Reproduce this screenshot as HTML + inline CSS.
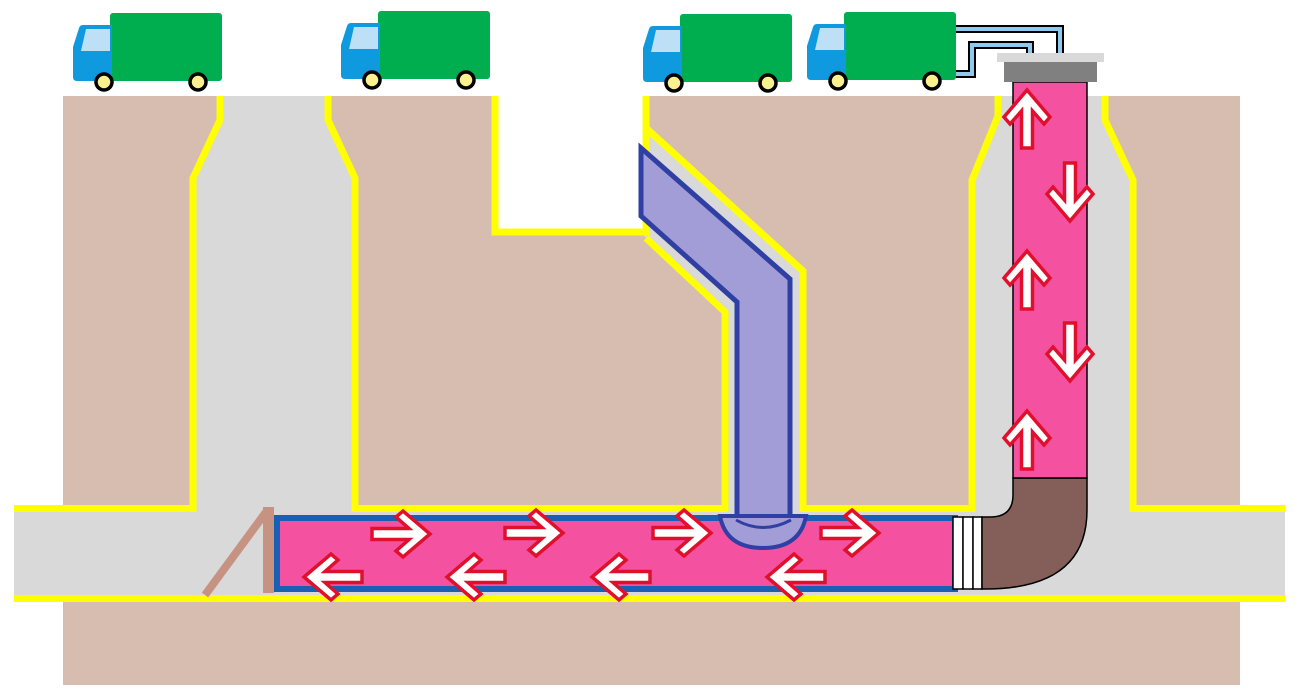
<!DOCTYPE html>
<html><head><meta charset="utf-8"><style>html,body{margin:0;padding:0;background:#fff}svg{display:block}</style></head>
<body>
<svg width="1302" height="696" viewBox="0 0 1302 696" xmlns="http://www.w3.org/2000/svg">
<defs>
<g id="truck">
<rect x="0" y="0" width="112" height="68" rx="3" fill="#00ae4f"/>
<path d="M2,12 L-27,12 Q-30,12 -31,15 L-37,34 L-37,64 Q-37,68 -33,68 L2,68 Z" fill="#0f9ae0"/>
<path d="M0,16 L-24,16 L-29,38 L0,38 Z" fill="#bde0f7"/>
<circle cx="-6" cy="69" r="8" fill="#fdf08f" stroke="#000" stroke-width="3.5"/>
<circle cx="88" cy="69" r="8" fill="#fdf08f" stroke="#000" stroke-width="3.5"/>
</g>
<polygon id="ar" points="-29,-5.5 8,-5.5 -5,-17 2,-23 29,0 2,23 -5,17 8,5.5 -29,5.5" fill="#fff" stroke="#e0102d" stroke-width="3.5" stroke-linejoin="miter"/>
</defs>

<!-- ground -->
<rect x="63" y="96" width="1177" height="589" fill="#d7bcb0"/>
<!-- sewer band -->
<rect x="14" y="508" width="1271" height="90" fill="#d9d9d9"/>
<!-- left manhole gray -->
<polygon points="220,96 328,96 328,120 355,178 355,510 193,510 193,178 220,120" fill="#d9d9d9"/>
<!-- right manhole gray -->
<polygon points="998,96 1105,96 1105,120 1133,180 1133,510 972,510 972,180 998,116" fill="#d9d9d9"/>
<!-- notch white -->
<rect x="496" y="90" width="148" height="142" fill="#fff"/>
<!-- lateral trench gray -->
<polygon points="644,130 803,273 803,510 725,510 725,312 644,236" fill="#d9d9d9"/>

<!-- yellow lines -->
<g fill="none" stroke="#ffff00" stroke-width="7" stroke-linejoin="miter">
<polyline points="14,508.5 193,508.5 193,178 220,120 220,96"/>
<polyline points="328,96 328,120 355,178 355,508.5 725,508.5 725,312 646,238"/>
<polyline points="495,96 495,232 646,232 646,96"/>
<polyline points="646,128 803,271 803,508.5 972,508.5 972,180 998,116 998,96"/>
<polyline points="1105,96 1105,120 1133,180 1133,508.5 1285,508.5"/>
<line x1="14" y1="598.5" x2="1285" y2="598.5"/>
</g>

<!-- lateral pipe -->
<polygon points="641,148 790,279 790,522 737,522 737,302 641,216" fill="#a29dd6" stroke="#2f3fa3" stroke-width="5" stroke-linejoin="miter"/>

<!-- main pipe -->
<rect x="277" y="518" width="678" height="71" fill="#f452a0" stroke="#1a5fb4" stroke-width="6"/>
<!-- dome -->
<path d="M720,516 L806,516 Q800,548 763,548 Q726,548 720,516 Z" fill="#a29dd6" stroke="#2f3fa3" stroke-width="4"/>
<path d="M736,520 Q763,535 791,520" fill="none" stroke="#2f3fa3" stroke-width="3"/>

<!-- stick -->
<line x1="205" y1="595" x2="266" y2="512" stroke="#c69383" stroke-width="8"/>
<rect x="263" y="507" width="11" height="86" fill="#c69383"/>

<!-- ring -->
<rect x="953" y="517" width="10" height="72" fill="#fff" stroke="#000" stroke-width="1.5"/>
<rect x="963" y="517" width="10" height="72" fill="#fff" stroke="#000" stroke-width="1.5"/>
<rect x="973" y="517" width="9" height="72" fill="#fff" stroke="#000" stroke-width="1.5"/>
<!-- elbow -->
<path d="M982,517 L990,517 Q1013,517 1013,495 L1013,478 L1087,478 L1087,510 Q1087,589 985,589 L982,589 Z" fill="#845e58" stroke="#000" stroke-width="1.5"/>
<!-- vertical pink pipe -->
<rect x="1013" y="82" width="74" height="396" fill="#f452a0" stroke="#000" stroke-width="1.5"/>

<!-- hose -->
<g fill="none" stroke-linejoin="miter">
<polyline points="955,29 1060,29 1060,54" stroke="#000" stroke-width="8"/>
<polyline points="955,29 1060,29 1060,54" stroke="#8fc9ec" stroke-width="4"/>
<polyline points="955,74 972,74 972,45 1030,45 1030,54" stroke="#000" stroke-width="8"/>
<polyline points="955,74 972,74 972,45 1030,45 1030,54" stroke="#8fc9ec" stroke-width="4"/>
</g>
<!-- cap -->
<rect x="997" y="53" width="107" height="9" fill="#d9d9d9"/>
<rect x="1004" y="62" width="93" height="20" fill="#808080"/>

<!-- trucks -->
<use href="#truck" transform="translate(110,13)"/>
<use href="#truck" transform="translate(378,11)"/>
<use href="#truck" transform="translate(680,14)"/>
<use href="#truck" transform="translate(844,12)"/>

<!-- arrows right -->
<use href="#ar" transform="translate(401,534)"/>
<use href="#ar" transform="translate(534,533)"/>
<use href="#ar" transform="translate(682,533)"/>
<use href="#ar" transform="translate(850,533)"/>
<!-- arrows left -->
<use href="#ar" transform="translate(333,577) rotate(180)"/>
<use href="#ar" transform="translate(476,577) rotate(180)"/>
<use href="#ar" transform="translate(621,577) rotate(180)"/>
<use href="#ar" transform="translate(796,577) rotate(180)"/>
<!-- vertical -->
<use href="#ar" transform="translate(1027,119) rotate(-90)"/>
<use href="#ar" transform="translate(1027,280) rotate(-90)"/>
<use href="#ar" transform="translate(1027,440) rotate(-90)"/>
<use href="#ar" transform="translate(1070,192) rotate(90)"/>
<use href="#ar" transform="translate(1070,352) rotate(90)"/>
</svg>
</body></html>
